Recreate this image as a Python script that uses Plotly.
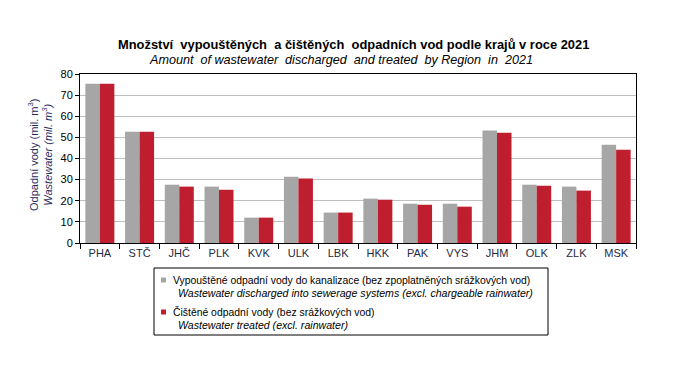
import plotly.graph_objects as go

regions = ["PHA", "STČ", "JHČ", "PLK", "KVK", "ULK", "LBK", "HKK", "PAK", "VYS", "JHM", "OLK", "ZLK", "MSK"]
discharged = [75.4, 52.7, 27.6, 26.7, 12.0, 31.4, 14.4, 21.0, 18.6, 18.6, 53.2, 27.6, 26.7, 46.5]
treated = [75.4, 52.7, 26.7, 25.2, 12.0, 30.5, 14.4, 20.5, 18.1, 17.2, 52.2, 27.1, 24.8, 44.2]
y_ticks = [0, 10, 20, 30, 40, 50, 60, 70, 80]

legend_cz = ["Vypouštěné odpadní vody do kanalizace (bez zpoplatněných srážkových vod)",
             "Čištěné odpadní vody (bez srážkových vod)"]
legend_en = ["Wastewater discharged into sewerage systems (excl. chargeable rainwater)",
             "Wastewater treated (excl. rainwater)"]
colors = ["#A6A6A6", "#BE1E2D"]

FONT = "Liberation Sans, Arial, sans-serif"

# page body has an 8px margin; figure sized to fit the window
OFF = 8
W, H = 680 - 2 * OFF, 376 - 2 * OFF
# plot area in window pixels (reference coordinates)
L, R, T, B = 80, 636, 74, 243


def px(x):
    return (x - L) / (R - L)


def py(y):
    return (B - y) / (B - T)


fig = go.Figure()
fig.add_trace(go.Bar(x=regions, y=discharged, name=legend_cz[0], marker_color=colors[0], marker_line_width=0))
fig.add_trace(go.Bar(x=regions, y=treated, name=legend_cz[1], marker_color=colors[1], marker_line_width=0))

annotations = [
    dict(text="<b>Množství  vypouštěných  a čištěných  odpadních vod podle krajů v roce 2021</b>",
         xref="paper", yref="paper", x=px(353), y=py(44),
         xanchor="center", yanchor="middle", showarrow=False,
         font=dict(family=FONT, size=12.9, color="#000000")),
    dict(text="<i>Amount  of wastewater  discharged  and treated  by Region  in  2021</i>",
         xref="paper", yref="paper", x=px(341), y=py(60),
         xanchor="center", yanchor="middle", showarrow=False,
         font=dict(family=FONT, size=12.6, color="#000000")),
    dict(text="Odpadní vody (mil. m<sup>3</sup>)<br><i>Wastewater (mil. m<sup>3</sup>)</i>",
         xref="paper", yref="paper", x=px(40), y=py(155),
         xanchor="center", yanchor="middle", showarrow=False, textangle=-90,
         font=dict(family=FONT, size=11, color="#1F2A5C")),
]

shapes = [
    dict(type="rect", xref="paper", yref="paper", x0=px(154), x1=px(548), y0=py(268), y1=py(335),
         line=dict(color="#000000", width=1), fillcolor="rgba(0,0,0,0)"),
]

line_y = [(280, 293), (312, 325)]
for i in range(2):
    y1, y2 = line_y[i]
    shapes.append(dict(type="rect", xref="paper", yref="paper",
                       x0=px(161), x1=px(166), y0=py(y1 - 2.5), y1=py(y1 + 2.5),
                       fillcolor=colors[i], line=dict(width=0)))
    annotations.append(dict(text=legend_cz[i], xref="paper", yref="paper", x=px(171), y=py(y1),
                            xanchor="left", yanchor="middle", showarrow=False,
                            font=dict(family=FONT, size=10.4, color="#000000")))
    annotations.append(dict(text="<i>" + legend_en[i] + "</i>", xref="paper", yref="paper", x=px(175.5), y=py(y2),
                            xanchor="left", yanchor="middle", showarrow=False,
                            font=dict(family=FONT, size=10.6, color="#000000")))

fig.update_layout(
    width=W, height=H,
    margin=dict(l=L - OFF, r=W - (R - OFF), t=T - OFF, b=H - (B - OFF), autoexpand=False),
    paper_bgcolor="white", plot_bgcolor="white",
    font=dict(family=FONT, size=11, color="#000000"),
    barmode="group", bargap=0.27, bargroupgap=0,
    showlegend=False,
    annotations=annotations,
    shapes=shapes,
)

fig.update_xaxes(
    showline=True, linecolor="#000000", linewidth=1, mirror=True,
    ticks="outside", tickson="boundaries", ticklen=5, tickcolor="#000000",
    tickfont=dict(family=FONT, size=11, color="#1F2A44"),
    showgrid=False,
)
fig.update_yaxes(
    range=[0, 80], tickvals=y_ticks,
    showline=True, linecolor="#000000", linewidth=1, mirror=True,
    ticks="outside", ticklen=4, tickcolor="#000000",
    showgrid=True, gridcolor="#BFBFBF", gridwidth=1,
    zeroline=False,
    tickfont=dict(family=FONT, size=11, color="#000000"),
)

fig.write_html("out.html")
